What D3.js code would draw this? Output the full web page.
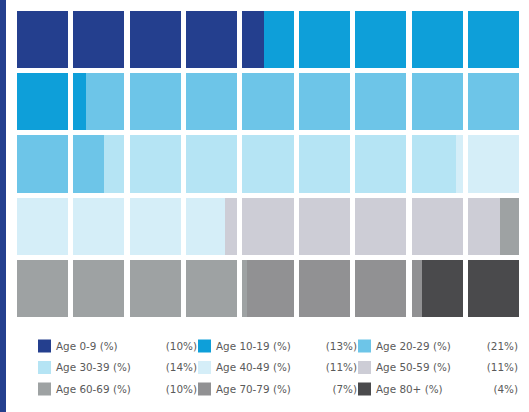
<!DOCTYPE html>
<html>
<head>
<meta charset="utf-8">
<script src="https://cdn.jsdelivr.net/npm/d3@7"></script>
<style>
  body { margin: 0; background: #fff; }
  svg { display: block; }
  .legend text { font-family: "DejaVu Sans", Verdana, sans-serif; font-size: 10.4px; fill: #5a5a5a; }
</style>
</head>
<body>
<div id="chart"></div>
<script>
// Data
const groups = ["Age 0-9 (%)", "Age 10-19 (%)", "Age 20-29 (%)", "Age 30-39 (%)", "Age 40-49 (%)",
  "Age 50-59 (%)", "Age 60-69 (%)", "Age 70-79 (%)", "Age 80+ (%)"];
const shares = [9.84, 12.9, 20.8, 13.9, 10.9, 10.8, 9.9, 6.9, 4.0];
const shareLabels = ["(10%)", "(13%)", "(21%)", "(14%)", "(11%)", "(11%)", "(10%)", "(7%)", "(4%)"];
const colors = ["#243f8e", "#0e9fd9", "#6dc5e8", "#b5e4f4", "#d5eef8", "#cdcdd6", "#9ea2a3", "#919193", "#4a4a4c"];

const nCols = 9, nRows = 5, nCells = nCols * nRows;
const W = 529, H = 412;

const svg = d3.select("#chart").append("svg").attr("width", W).attr("height", H);

// left accent bar
svg.append("rect").attr("x", 0).attr("y", 0).attr("width", 6).attr("height", H).attr("fill", "#243f8e");

const colScale = d3.scaleBand().domain(d3.range(nCols)).range([17, 519]).paddingInner(0.095);
const rowScale = d3.scaleBand().domain(d3.range(nRows)).range([11, 317]).paddingInner(0.084);

// cumulative boundaries in cell units
const total = d3.sum(shares);
const cum = [0];
shares.forEach((v, i) => cum.push(cum[i] + v / total * nCells));

// build segments per cell
const segs = [];
for (let c = 0; c < nCells; c++) {
  shares.forEach((v, k) => {
    const a = Math.max(c, cum[k]), b = Math.min(c + 1, cum[k + 1]);
    if (b - a > 1e-6) segs.push({ cell: c, k, a: a - c, b: b - c });
  });
}

const inner = d3.scaleLinear().domain([0, 1]).range([0, colScale.bandwidth()]);

svg.append("g").selectAll("rect").data(segs).join("rect")
  .attr("x", d => colScale(d.cell % nCols) + inner(d.a))
  .attr("y", d => rowScale(Math.floor(d.cell / nCols)))
  .attr("width", d => inner(d.b) - inner(d.a))
  .attr("height", rowScale.bandwidth())
  .attr("fill", d => colors[d.k])
  .attr("shape-rendering", "crispEdges");

// legend
const legCol = d3.scaleOrdinal().domain([0, 1, 2]).range([38, 198, 358]);
const legRow = d3.scaleLinear().domain([0, 2]).range([346, 389]);
const legend = svg.append("g").attr("class", "legend");
const item = legend.selectAll("g").data(groups).join("g")
  .attr("transform", (d, i) => `translate(${legCol(i % 3)},${legRow(Math.floor(i / 3))})`);
item.append("rect").attr("x", 0).attr("y", -6.5).attr("width", 13).attr("height", 13)
  .attr("fill", (d, i) => colors[i]);
item.append("text").attr("x", 18).attr("dy", "0.35em").text(d => d);
item.append("text").attr("x", (d, i) => i % 3 === 2 ? 160 : 159).attr("text-anchor", "end")
  .attr("dy", "0.35em").text((d, i) => shareLabels[i]);
</script>
</body>
</html>
